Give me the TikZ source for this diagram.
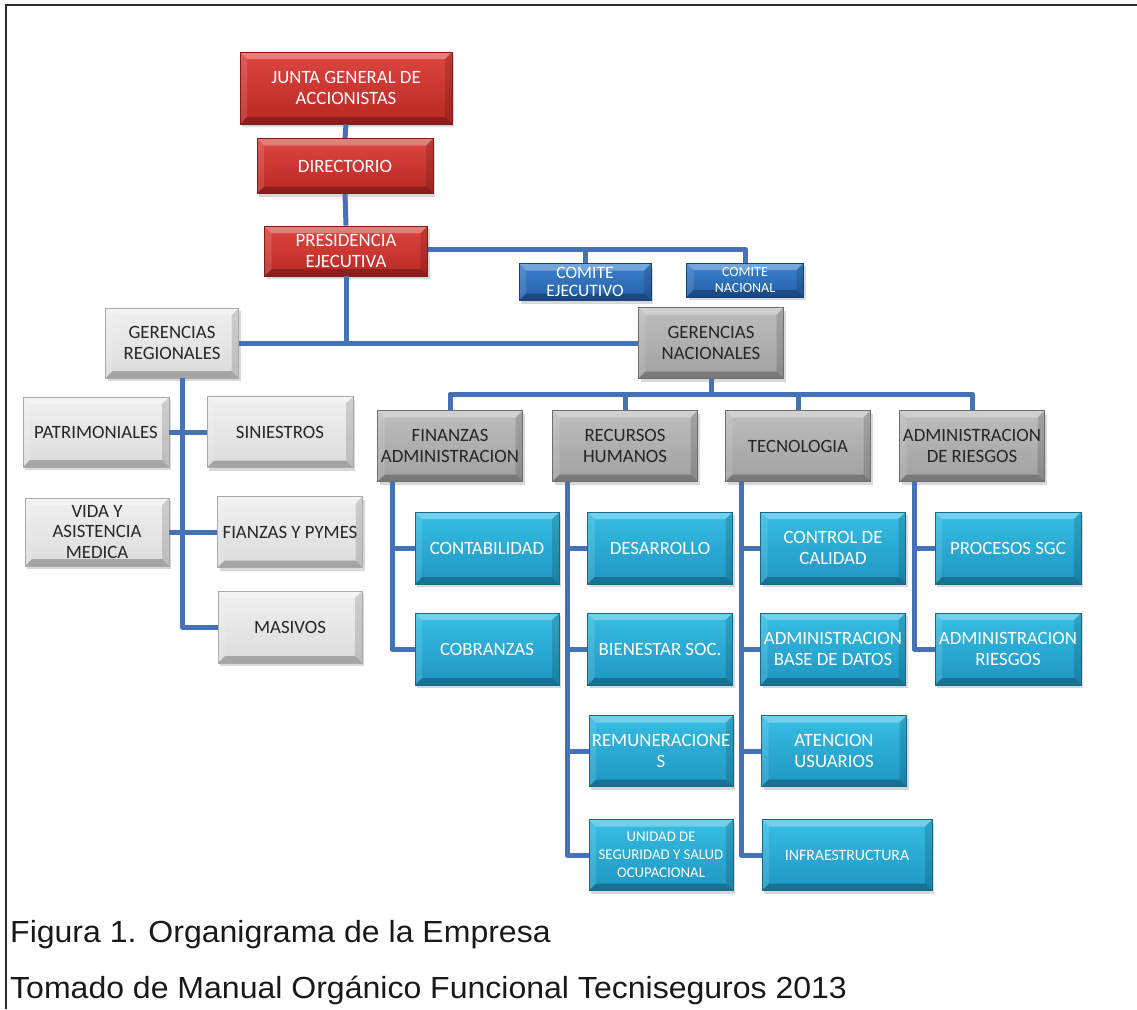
\documentclass[tikz,border=0pt]{standalone}
\usepackage{fontspec}
\setmainfont{Carlito}
\newfontfamily\capfont[FakeStretch=1.05]{Liberation Sans}
\usetikzlibrary{shadows,calc}
\definecolor{redA}{RGB}{222,70,64}
\definecolor{redB}{RGB}{185,40,36}
\definecolor{redE}{RGB}{130,25,22}
\definecolor{bluA}{RGB}{60,130,205}
\definecolor{bluB}{RGB}{35,95,170}
\definecolor{bluE}{RGB}{25,65,120}
\definecolor{gryA}{RGB}{190,190,190}
\definecolor{gryB}{RGB}{160,160,160}
\definecolor{gryE}{RGB}{110,110,110}
\definecolor{lgrA}{RGB}{240,240,240}
\definecolor{lgrB}{RGB}{220,220,220}
\definecolor{lgrE}{RGB}{170,170,170}
\definecolor{cyaA}{RGB}{55,190,228}
\definecolor{cyaB}{RGB}{30,150,195}
\definecolor{cyaE}{RGB}{20,105,140}
\definecolor{conncol}{RGB}{68,114,180}
\definecolor{txtdark}{RGB}{38,38,38}
\definecolor{captcol}{RGB}{25,25,25}
\tikzset{
  bevel/.style={path picture={
    \fill[white,opacity=.30] (path picture bounding box.north west) -- (path picture bounding box.north east)
      -- ([shift={(-7pt,-7pt)}]path picture bounding box.north east) -- ([shift={(7pt,-7pt)}]path picture bounding box.north west) -- cycle;
    \fill[white,opacity=.12] (path picture bounding box.north west) -- ([shift={(7pt,-7pt)}]path picture bounding box.north west)
      -- ([shift={(7pt,7pt)}]path picture bounding box.south west) -- (path picture bounding box.south west) -- cycle;
    \fill[black,opacity=.14] (path picture bounding box.north east) -- ([shift={(-7pt,-7pt)}]path picture bounding box.north east)
      -- ([shift={(-7pt,7pt)}]path picture bounding box.south east) -- (path picture bounding box.south east) -- cycle;
    \fill[black,opacity=.25] (path picture bounding box.south west) -- ([shift={(7pt,7pt)}]path picture bounding box.south west)
      -- ([shift={(-7pt,7pt)}]path picture bounding box.south east) -- (path picture bounding box.south east) -- cycle;
  }},
  box/.style={rectangle, inner sep=0pt, align=center, bevel, line width=0.8pt,
    drop shadow={opacity=0.3, shadow xshift=2pt, shadow yshift=-3pt},
    font=\fontsize{18.8}{20.5}\selectfont},
  redbox/.style={box, top color=redA, bottom color=redB, draw=redE, text=white},
  blubox/.style={box, top color=bluA, bottom color=bluB, draw=bluE, text=white},
  grybox/.style={box, top color=gryA, bottom color=gryB, draw=gryE, text=txtdark},
  lgrbox/.style={box, top color=lgrA, bottom color=lgrB, draw=lgrE, text=txtdark},
  cyabox/.style={box, top color=cyaA, bottom color=cyaB, draw=cyaE, text=white},
  conn/.style={draw=conncol, line width=5pt, line join=round},
  capt/.style={anchor=base west, inner sep=0pt, font=\capfont\fontsize{30.5}{34}\selectfont, text=captcol}
}
\begin{document}
\begin{tikzpicture}[x=1pt,y=-1pt]
\useasboundingbox (0,0) rectangle (1137,1009);
\fill[white] (0,0) rectangle (1137,1009);
\draw[line width=2.2pt, color={rgb,255:red,45;green,45;blue,45}] (6,1009) -- (6,5) -- (1137,5);

% top level
\node[redbox, minimum width=212, minimum height=72] (junta) at (346,88) {JUNTA GENERAL DE\\ACCIONISTAS};
\node[redbox, minimum width=176, minimum height=55] (dir) at (345,166) {DIRECTORIO};
\node[redbox, minimum width=163, minimum height=50] (pres) at (346,251) {PRESIDENCIA\\EJECUTIVA};
\node[blubox, minimum width=132, minimum height=37, font=\fontsize{17.5}{17.5}\selectfont] (cejec) at (585,282) {COMITE\\EJECUTIVO};
\node[blubox, minimum width=117, minimum height=34, font=\fontsize{14}{16}\selectfont] (cnac) at (745,280) {COMITE\\NACIONAL};
\node[lgrbox, minimum width=133, minimum height=70] (greg) at (172,343) {GERENCIAS\\REGIONALES};
\node[grybox, minimum width=145, minimum height=71] (gnac) at (711,343) {GERENCIAS\\NACIONALES};

% regionales
\node[lgrbox, minimum width=146, minimum height=70] (patri) at (96,432) {PATRIMONIALES};
\node[lgrbox, minimum width=146, minimum height=71] (sini) at (280,432) {SINIESTROS};
\node[lgrbox, minimum width=144, minimum height=68] (vida) at (97,532) {VIDA Y\\ASISTENCIA\\MEDICA};
\node[lgrbox, minimum width=145, minimum height=71] (fian) at (290,532) {FIANZAS Y PYMES};
\node[lgrbox, minimum width=144, minimum height=72] (masi) at (290,627) {MASIVOS};

% nacionales row 2
\node[grybox, minimum width=145, minimum height=71] (fin) at (450,446) {FINANZAS\\ADMINISTRACION};
\node[grybox, minimum width=145, minimum height=71] (rh) at (625,446) {RECURSOS\\HUMANOS};
\node[grybox, minimum width=145, minimum height=71] (tec) at (798,446) {TECNOLOGIA};
\node[grybox, minimum width=145, minimum height=71] (adr) at (972,446) {ADMINISTRACION\\DE RIESGOS};

% row 3
\node[cyabox, minimum width=144, minimum height=72] (cont) at (487,548) {CONTABILIDAD};
\node[cyabox, minimum width=144, minimum height=72] (cobr) at (487,649) {COBRANZAS};
\node[cyabox, minimum width=145, minimum height=72] (desa) at (660,548) {DESARROLLO};
\node[cyabox, minimum width=145, minimum height=72] (bien) at (660,649) {BIENESTAR SOC.};
\node[cyabox, minimum width=144, minimum height=71] (remu) at (661,751) {REMUNERACIONE\\S};
\node[cyabox, minimum width=144, minimum height=71, font=\fontsize{14.8}{18}\selectfont] (unid) at (661,855) {UNIDAD DE\\SEGURIDAD Y SALUD\\OCUPACIONAL};
\node[cyabox, minimum width=145, minimum height=72] (ccal) at (833,548) {CONTROL DE\\CALIDAD};
\node[cyabox, minimum width=145, minimum height=72] (abd) at (833,649) {ADMINISTRACION\\BASE DE DATOS};
\node[cyabox, minimum width=145, minimum height=71] (aten) at (834,751) {ATENCION\\USUARIOS};
\node[cyabox, minimum width=170, minimum height=71, font=\fontsize{15.8}{18}\selectfont] (infra) at (847,855) {INFRAESTRUCTURA};
\node[cyabox, minimum width=146, minimum height=72] (psgc) at (1008,548) {PROCESOS SGC};
\node[cyabox, minimum width=146, minimum height=72] (ariesg) at (1008,649) {ADMINISTRACION\\RIESGOS};

% connectors
\draw[conn] (junta.south) -- (dir.north);
\draw[conn] (dir.south) -- (pres.north);
\coordinate (pbus) at ([yshift=2pt]pres.east);
\draw[conn] (pbus) -- (pbus -| cnac.north) -- (cnac.north);
\draw[conn] (pbus -| cejec.north) -- (cejec.north);
\draw[conn] (pres.south) -- (pres.south |- greg.east);
\draw[conn] (greg.east) -- (gnac.west);

\coordinate (rv) at ([xshift=10pt]greg.south);
\draw[conn] (rv) |- (masi.west);
\draw[conn] (patri.east) -- (sini.west);
\draw[conn] (vida.east) -- (fian.west);

\coordinate (nbus) at ([yshift=16pt]gnac.south |- fin.north);
\draw[conn] (gnac.south) -- (nbus);
\draw[conn] (fin.north) -- (fin.north |- nbus) -- (adr.north |- nbus) -- (adr.north);
\draw[conn] (rh.north) -- (rh.north |- nbus);
\draw[conn] (tec.north) -- (tec.north |- nbus);

\coordinate (fv) at ([xshift=15pt]fin.south west);
\draw[conn] (fv) |- (cobr.west);
\draw[conn] (fv |- cont.west) -- (cont.west);
\coordinate (hv) at ([xshift=15pt]rh.south west);
\draw[conn] (hv) |- (unid.west);
\draw[conn] (hv |- desa.west) -- (desa.west);
\draw[conn] (hv |- bien.west) -- (bien.west);
\draw[conn] (hv |- remu.west) -- (remu.west);
\coordinate (tv) at ([xshift=16pt]tec.south west);
\draw[conn] (tv) |- (infra.west);
\draw[conn] (tv |- ccal.west) -- (ccal.west);
\draw[conn] (tv |- abd.west) -- (abd.west);
\draw[conn] (tv |- aten.west) -- (aten.west);
\coordinate (av) at ([xshift=15pt]adr.south west);
\draw[conn] (av) |- (ariesg.west);
\draw[conn] (av |- psgc.west) -- (psgc.west);

% caption
\node[capt] (cap1) at (10,942) {Figura 1. Organigrama de la Empresa};
\node[capt] (cap2) at (10,998) {Tomado de Manual Orgánico Funcional Tecniseguros 2013};
\end{tikzpicture}
\end{document}
